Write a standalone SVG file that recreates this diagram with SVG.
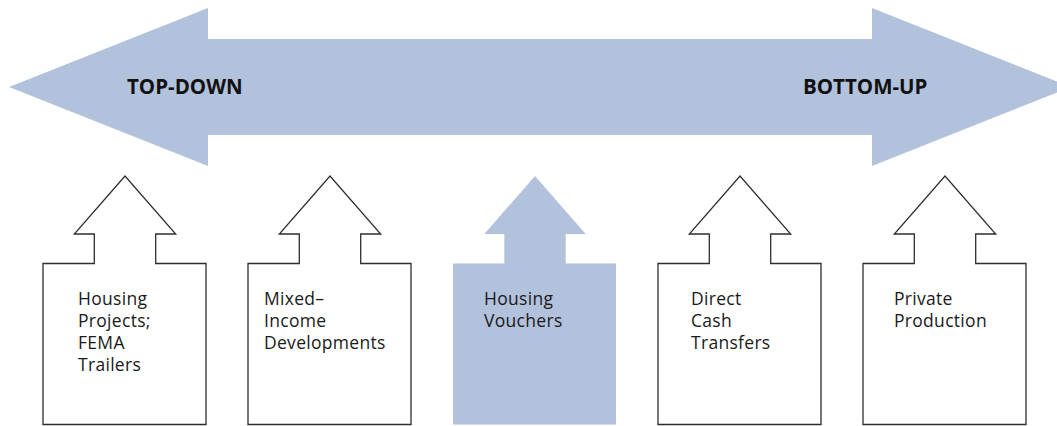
<svg xmlns="http://www.w3.org/2000/svg" width="1057" height="426" viewBox="0 0 1057 426">
  <style>
    .band { fill: #b3c2dc; }
    .post { fill: #ffffff; stroke: #2e2e2e; stroke-width: 1.3; stroke-linejoin: miter; }
    .post.active { fill: #b3c2dc; stroke: none; }
    .head { font-family: "Open Sans", "Liberation Sans", sans-serif; font-weight: 700; font-size: 20.5px; fill: #111111; }
    .label { font-family: "Open Sans", "Liberation Sans", sans-serif; font-size: 17.5px; letter-spacing: 0.3px; fill: #1a1a1a; }
  </style>
  <defs>
    <!-- box with an upward arrow on top; box starts at x=0 -->
    <path id="post" d="M0,424.5 V263.5 H51.3 V234 H31.3 L82,176 L132.7,234 H112.7 V263.5 H163 V424.5 Z"/>
  </defs>

  <!-- double-headed scale arrow -->
  <g id="scale">
    <polygon class="band" points="9,87 208,8 208,39 872,39 872,8 1071,87 872,166 872,135 208,135 208,166"/>
    <text class="head" x="127" y="94">TOP-DOWN</text>
    <text class="head" x="803" y="94">BOTTOM-UP</text>
  </g>

  <g id="connectors"></g>

  <g id="node-projects">
    <use href="#post" class="post" x="43"/>
    <text class="label" x="78" y="305">Housing</text>
    <text class="label" x="78" y="327">Projects;</text>
    <text class="label" x="78" y="349">FEMA</text>
    <text class="label" x="78" y="371">Trailers</text>
  </g>

  <g id="node-mixed">
    <use href="#post" class="post" x="248"/>
    <text class="label" x="264" y="305">Mixed–</text>
    <text class="label" x="264" y="327">Income</text>
    <text class="label" x="264" y="349">Developments</text>
  </g>

  <g id="node-vouchers">
    <use href="#post" class="post active" x="453"/>
    <text class="label" x="484" y="305">Housing</text>
    <text class="label" x="484" y="327">Vouchers</text>
  </g>

  <g id="node-cash">
    <use href="#post" class="post" x="658"/>
    <text class="label" x="691" y="305">Direct</text>
    <text class="label" x="691" y="327">Cash</text>
    <text class="label" x="691" y="349">Transfers</text>
  </g>

  <g id="node-private">
    <use href="#post" class="post" x="863"/>
    <text class="label" x="894" y="305">Private</text>
    <text class="label" x="894" y="327">Production</text>
  </g>
</svg>
